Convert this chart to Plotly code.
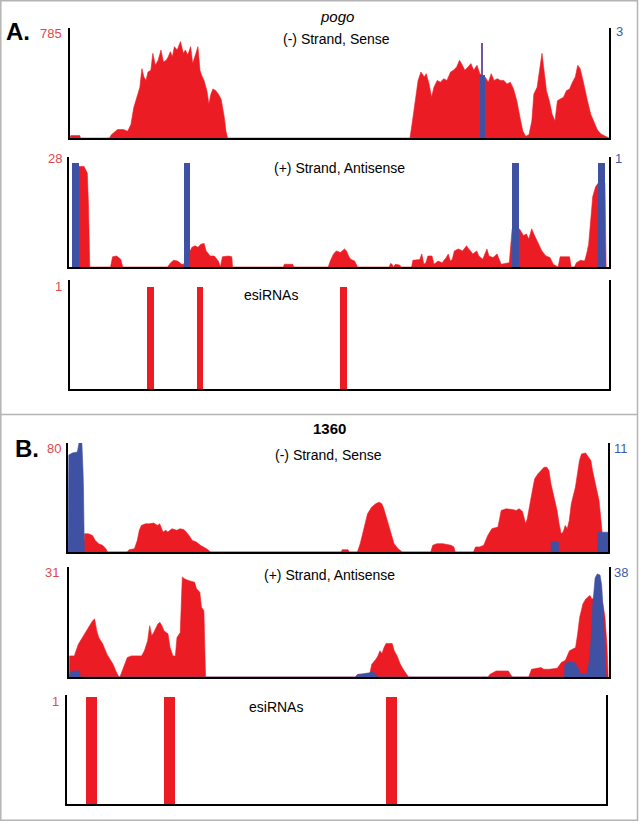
import plotly.graph_objects as go

W, H = 639, 821
RED = "#ec1c24"
BLUE = "#3f51a2"
PURPLE = "#7555a3"
RED_TXT = "#e2474c"
BLUE_TXT = "#3f5aa6"
FONT = "Liberation Sans, Arial, Helvetica, sans-serif"

# ---------------- data: pogo (panel A), position bins 0..1327 ----------------
A_len = 1327
A1_red_pos = [0, 2, 24, 26, 97, 102, 117, 132, 142, 150, 157, 164, 172, 177, 182, 187, 192, 199, 204, 210,
              217, 224, 230, 237, 242, 247, 252, 257, 264, 272, 279, 284, 290, 297, 302, 310, 315, 320, 324, 330,
              337, 342, 347, 352, 359, 365, 372, 380, 384, 388,
              837, 842, 850, 857, 864, 872, 877, 884, 890, 896, 904, 912, 920, 928, 937, 944, 952, 959, 966, 972,
              980, 987, 994, 1002, 1009, 1022, 1030, 1037, 1044, 1052, 1060, 1068, 1076, 1084, 1092, 1100, 1108,
              1115, 1122, 1130, 1137, 1142, 1150, 1157, 1162, 1168, 1173, 1180, 1187, 1194, 1200, 1207, 1215,
              1222, 1230, 1237, 1244, 1250, 1256, 1262, 1268, 1274, 1282, 1290, 1298, 1307, 1317, 1327]
A1_red_val = [0, 17, 17, 0, 0, 24, 60, 60, 48, 97, 217, 290, 362, 495, 435, 411, 471, 483, 604, 519,
              555, 628, 543, 555, 580, 616, 580, 652, 628, 688, 604, 628, 592, 652, 531, 604, 652, 483, 447, 411,
              338, 242, 314, 350, 338, 314, 278, 145, 48, 0,
              0, 97, 266, 411, 471, 435, 459, 386, 290, 362, 411, 398, 423, 411, 471, 483, 507, 555, 519, 483,
              507, 531, 483, 519, 459, 435, 398, 459, 411, 423, 411, 411, 386, 398, 350, 266, 145,
              48, 12, 24, 121, 314, 362, 507, 604, 459, 338, 266, 169, 121, 266, 278, 290,
              338, 350, 398, 435, 519, 495, 423, 338, 266, 169, 109, 60, 29, 12, 0]
A1_red_max = 785
A1_blue_pos = [1015.5]
A1_blue_val = [1.71]
A1_blue_spike = [2.58]
A1_blue_max = 3

A2_red_pos = [24, 24.5, 37, 42, 45, 48, 51,
              102, 107, 117, 127, 132,
              242, 250, 257, 267, 277, 282, 298, 302, 310, 317, 324, 332, 337, 347, 357, 367, 372, 377, 392, 400, 402,
              527, 529, 550, 552,
              637, 642, 650, 657, 667, 677, 682, 687, 692, 702, 709,
              787, 790, 794, 797, 802, 812, 817,
              842, 845, 862, 867, 872, 877, 882, 892, 897, 907, 917, 927, 932, 937, 942, 947, 957, 967, 977, 982,
              987, 992, 1002, 1007, 1017, 1027, 1032, 1042, 1052, 1062, 1072, 1082, 1089, 1107, 1117, 1124, 1130,
              1137, 1144, 1152, 1162, 1172, 1182, 1190, 1202, 1207, 1230, 1234, 1242, 1247, 1257, 1267, 1272, 1277,
              1282, 1287, 1294, 1300, 1317, 1320]
A2_red_val = [0, 25.6, 25.6, 24.7, 23.9, 15.3, 0,
              0, 2.6, 2.8, 2.0, 0,
              0, 1.1, 1.7, 1.5, 0.7, 0.7, 4.1, 5.0, 5.4, 5.0, 5.8, 6.0, 4.1, 2.8, 2.8, 1.5, 0, 2.6, 2.8, 2.6, 0,
              0, 0.7, 0.7, 0,
              0, 1.5, 3.3, 4.1, 3.7, 4.6, 4.1, 2.8, 2.0, 1.5, 0,
              0, 0.9, 0.7, 0, 0.7, 0.5, 0,
              0, 1.7, 1.9, 3.3, 0.7, 1.1, 2.8, 2.8, 0.7, 1.5, 1.1, 2.4, 3.3, 1.5, 2.0, 4.1, 4.6, 4.1, 5.4, 4.6,
              4.1, 3.3, 4.1, 2.8, 2.0, 4.6, 2.8, 2.4, 3.3, 0.7, 0.9, 1.1, 9.7, 9.7, 8.0, 8.4, 7.1,
              9.7, 8.0, 6.3, 4.1, 2.8, 2.4, 0.7, 0, 2.6, 2.6, 0, 0, 1.1, 1.7, 1.5, 3.3, 5.8,
              12.7, 17.9, 20.4, 21.3, 21.3, 0]
A2_red_max = 28
A2_blue_pos = [15.5, 290, 1097, 1308.5]
A2_blue_val = [1, 1, 1, 1]
A2_blue_max = 1

A3_esi_pos = [199, 320, 673]
A3_esi_val = [1, 1, 1]
A3_esi_max = 1

# ---------------- data: 1360 (panel B), position bins 0..1325 ----------------
B_len = 1325
B1_red_pos = [38, 40.5, 50, 60, 67, 75, 85, 93, 97,
              145, 150, 163, 170, 175, 180, 190, 200, 210, 220, 225, 230, 233, 240, 245, 255, 267, 275, 285, 290,
              297, 305, 315, 325, 333, 340, 350,
              670, 673, 687, 690, 710, 717, 725, 735, 745, 755, 763, 770, 775, 785, 792, 800, 810, 820,
              890, 895, 905, 920, 940, 947, 950,
              995, 1000, 1010, 1020, 1030, 1040, 1055, 1063, 1075, 1090, 1100, 1107, 1115, 1123, 1127, 1135, 1140,
              1145, 1153, 1160, 1168, 1175, 1180, 1185, 1193, 1200, 1205, 1210, 1215, 1220, 1225, 1230, 1235, 1245,
              1255, 1260, 1270, 1278, 1283, 1287, 1295, 1303, 1307, 1311, 1315]
B1_red_val = [0, 13.4, 13.4, 12.2, 8.5, 6.1, 4.9, 2.4, 0,
              0, 1.7, 2.4, 8.5, 15.9, 19.5, 20.7, 20.7, 21.2, 19.5, 20.7, 17.1, 14.6, 15.9, 14.6, 17.1, 15.9, 17.1,
              16.3, 14.6, 12.2, 8.5, 7.3, 4.9, 3.7, 2.4, 0,
              0, 1.7, 1.7, 0, 0, 6.1, 15.9, 28.1, 32.9, 35.4, 36.6, 35.4, 31.7, 20.7, 13.4, 6.1, 2.4, 0,
              0, 4.9, 6.1, 6.1, 4.9, 3.7, 0,
              0, 3.7, 3.7, 4.9, 12.2, 17.1, 18.3, 30.5, 31.7, 31.2, 30.5, 31.7, 29.8, 20.7, 24.4, 37.8, 45.1,
              53.7, 57.3, 59.8, 62.2, 62.2, 59.8, 50, 40.2, 30.5, 20.7, 13.4, 14.6, 19.5, 17.1, 23.2, 35.4, 47.6,
              67.1, 72, 72.7, 69.5, 67.1, 59.8, 47.6, 37.8, 25.6, 14.6, 0]
B1_red_max = 80
B1_blue_pos = [0, 2, 11, 23, 27, 31, 34, 37, 38, 40, 1185, 1185.5, 1203.5, 1204, 1300, 1300.5, 1325]
B1_blue_val = [0, 9.8, 10.0, 10.1, 11.0, 11.0, 11.0, 8.0, 6.4, 0, 0, 1, 1, 0, 0, 2, 2]
B1_blue_max = 11

B2_red_pos = [1, 1.5, 13, 23, 33, 43, 53, 58, 63, 68, 73, 83, 93, 101, 108, 115, 121, 125,
              133, 143, 153, 178, 185, 193, 198, 203, 208, 213, 218, 223, 228, 233, 243, 248, 255, 261, 265, 273,
              278, 283, 293, 308, 313, 321, 325, 331, 335,
              703, 708, 738, 743, 753, 758, 763, 768, 773, 778, 793, 798, 805, 813, 820, 828, 833,
              1028, 1033, 1048, 1078, 1083, 1088,
              1128, 1135, 1158, 1165, 1178, 1198, 1208, 1218, 1228, 1238, 1243, 1248, 1253, 1261, 1268, 1273,
              1278, 1283, 1290, 1305, 1310, 1315, 1320, 1323]
B2_red_val = [0, 5.95, 5.95, 9.26, 11.15, 13.04, 14.93, 15.88, 16.35, 13.04, 11.15, 9.26, 6.43, 5.0, 3.59, 1.70, 0.28, 0,
              2.65, 5.48, 5.95, 5.95, 7.37, 10.2, 14.46, 11.62, 12.57, 13.99, 14.93, 15.4, 14.46, 13.04, 12.1, 8.3,
              5.95, 5.95, 11.15, 12.57, 28.16, 27.7, 27.2, 26.7, 24.85, 23.9, 19.66, 18.7, 0,
              0, 0.76, 0.95, 3.59, 5.0, 5.95, 7.37, 6.6, 8.3, 9.45, 9.45, 7.37, 5.95, 3.59, 2.17, 0.76, 0,
              0, 0.76, 1.70, 1.70, 0.76, 0,
              0, 2.17, 2.65, 2.17, 2.17, 2.45, 4.06, 4.7, 7.37, 7.84, 8.3, 12.1, 16.8, 20.6, 22.0, 22.5,
              23.0, 22.0, 22.2, 22.5, 20.6, 17.0, 9.0, 0]
B2_red_max = 31
B2_blue_pos = [0, 3, 10, 25, 28, 703, 708, 733, 738, 745, 751, 758,
               1215, 1217, 1225, 1240, 1248, 1255, 1270, 1276, 1281, 1285, 1291, 1296, 1303, 1307, 1312, 1315, 1318]
B2_blue_val = [0, 1.5, 2.1, 2.1, 0, 0, 0.7, 1.2, 1.5, 1.9, 1.2, 0,
               0, 4.5, 5.3, 5.0, 3.5, 1.0, 1.0, 5, 13.2, 24.75, 34.2, 35.6, 35.2, 31.7, 20.2, 6.3, 0]
B2_blue_max = 38

B3_esi_pos = [61, 252, 798]
B3_esi_val = [1, 1, 1]
B3_esi_max = 1

for a, b in [(A1_red_pos, A1_red_val), (A2_red_pos, A2_red_val), (B1_red_pos, B1_red_val),
             (B1_blue_pos, B1_blue_val), (B2_red_pos, B2_red_val), (B2_blue_pos, B2_blue_val)]:
    assert len(a) == len(b), (len(a), len(b))


def fx(px):
    return px / W


def fy(py):
    return 1 - py / H


fig = go.Figure()

# subplot geometry in pixels: (xaxis id, y left id, y right id, x0, x1, ytop, ybottom, xlen, redmax, bluemax)
subplots = {
    "A1": ("x", "y", "y2", 70, 609, 28, 138, A_len, A1_red_max, A1_blue_max * 1.0),
    "A2": ("x2", "y3", "y4", 69, 609, 157, 267, A_len, A2_red_max, A2_blue_max * 1.055),
    "A3": ("x3", "y5", None, 70, 609, 280, 389, A_len, A3_esi_max * 1.07, None),
    "B1": ("x4", "y6", "y7", 68, 608, 443, 552, B_len, B1_red_max, B1_blue_max),
    "B2": ("x5", "y8", "y9", 69, 609, 567, 677, B_len, B2_red_max, B2_blue_max),
    "B3": ("x6", "y10", None, 67, 606, 695, 804, B_len, B3_esi_max * 1.02, None),
}

layout_axes = {}
for key, (xa, yl, yr, x0, x1, yt, yb, xlen, rmax, bmax) in subplots.items():
    xname = "xaxis" + xa[1:]
    ylname = "yaxis" + yl[1:]
    layout_axes[xname] = dict(domain=[fx(x0), fx(x1)], range=[0, xlen], anchor=yl,
                              showline=True, linecolor="black", linewidth=2, showgrid=False,
                              zeroline=False, showticklabels=False, ticks="", fixedrange=True)
    layout_axes[ylname] = dict(domain=[fy(yb), fy(yt)], range=[0, rmax], anchor=xa,
                               showline=True, mirror=True, linecolor="black", linewidth=2,
                               showgrid=False, zeroline=False, showticklabels=False, ticks="",
                               fixedrange=True)
    if yr:
        layout_axes["yaxis" + yr[1:]] = dict(overlaying=yl, anchor=xa, side="right", range=[0, bmax],
                                             visible=False, showgrid=False, zeroline=False, fixedrange=True)


def area(x, y, xa, ya, color):
    fig.add_trace(go.Scatter(x=x, y=y, xaxis=xa, yaxis=ya, mode="lines", fill="tozeroy",
                             line=dict(color=color, width=0.6), fillcolor=color,
                             hoverinfo="skip", showlegend=False))


def bars(x, y, xa, ya, color, width):
    fig.add_trace(go.Bar(x=x, y=y, xaxis=xa, yaxis=ya, width=[width] * len(x),
                         marker=dict(color=color, line=dict(width=0), opacity=1),
                         hoverinfo="skip", showlegend=False))


# Panel A
area(A1_red_pos, A1_red_val, "x", "y", RED)
bars(A1_blue_pos, A1_blue_spike, "x", "y2", PURPLE, 3)
bars(A1_blue_pos, A1_blue_val, "x", "y2", BLUE, 13)
area(A2_red_pos, A2_red_val, "x2", "y3", RED)
bars(A2_blue_pos, A2_blue_val, "x2", "y4", BLUE, 17)
bars(A3_esi_pos, A3_esi_val, "x3", "y5", RED, 17)
# Panel B
area(B1_red_pos, B1_red_val, "x4", "y6", RED)
area(B1_blue_pos, B1_blue_val, "x4", "y7", BLUE)
area(B2_red_pos, B2_red_val, "x5", "y8", RED)
area(B2_blue_pos, B2_blue_val, "x5", "y9", BLUE)
bars(B3_esi_pos, B3_esi_val, "x6", "y10", RED, 27)

ann = []


def text(t, x, y, size=14, color="black", xanchor="center", yanchor="middle", **kw):
    ann.append(dict(text=t, x=fx(x), y=fy(y), xref="paper", yref="paper", showarrow=False,
                    xanchor=xanchor, yanchor=yanchor,
                    font=dict(family=FONT, size=size, color=color), **kw))


text("<i>pogo</i>", 337, 17, size=15)
text("<b>A.</b>", 4, 32, size=24, xanchor="left")
text("(-) Strand, Sense", 337, 39, size=14)
text("(+) Strand, Antisense", 339, 168, size=14)
text("esiRNAs", 271, 295, size=14)
text("<b>1360</b>", 329, 428, size=15)
text("<b>B.</b>", 13, 449, size=24, xanchor="left")
text("(-) Strand, Sense", 328, 455, size=14)
text("(+) Strand, Antisense", 329, 575, size=14)
text("esiRNAs", 276, 707, size=14)

# axis max labels
text(str(A1_red_max), 64, 33, size=13, color=RED_TXT, xanchor="right")
text(str(A1_blue_max), 614, 31, size=13, color=BLUE_TXT, xanchor="left")
text(str(A2_red_max), 64, 159, size=13, color=RED_TXT, xanchor="right")
text(str(A2_blue_max), 613, 158, size=13, color=BLUE_TXT, xanchor="left")
text(str(A3_esi_max), 64, 286, size=13, color=RED_TXT, xanchor="right")
text(str(B1_red_max), 63, 448, size=13, color=RED_TXT, xanchor="right")
text(str(B1_blue_max), 612, 448, size=13, color=BLUE_TXT, xanchor="left")
text(str(B2_red_max), 61, 572, size=13, color=RED_TXT, xanchor="right")
text(str(B2_blue_max), 612, 572, size=13, color=BLUE_TXT, xanchor="left")
text(str(B3_esi_max), 61, 701, size=13, color=RED_TXT, xanchor="right")

shapes = [
    dict(type="rect", xref="paper", yref="paper", x0=fx(0.8), x1=fx(637.5), y0=fy(820.2), y1=fy(0.8),
         line=dict(color="#b4b4b4", width=1.5), layer="below"),
    dict(type="line", xref="paper", yref="paper", x0=fx(0.8), x1=fx(637.5), y0=fy(414.5), y1=fy(414.5),
         line=dict(color="#b4b4b4", width=1.5), layer="below"),
]

fig.update_layout(width=W, height=H, margin=dict(l=0, r=0, t=0, b=0), autosize=False,
                  paper_bgcolor="white", plot_bgcolor="rgba(0,0,0,0)", barmode="overlay",
                  bargap=0, showlegend=False, annotations=ann, shapes=shapes, **layout_axes)

fig.write_html("out.html", config={"displayModeBar": False},
               post_script="document.body.style.margin='0px';document.body.style.padding='0px';"
                           "document.body.style.overflow='hidden';")
